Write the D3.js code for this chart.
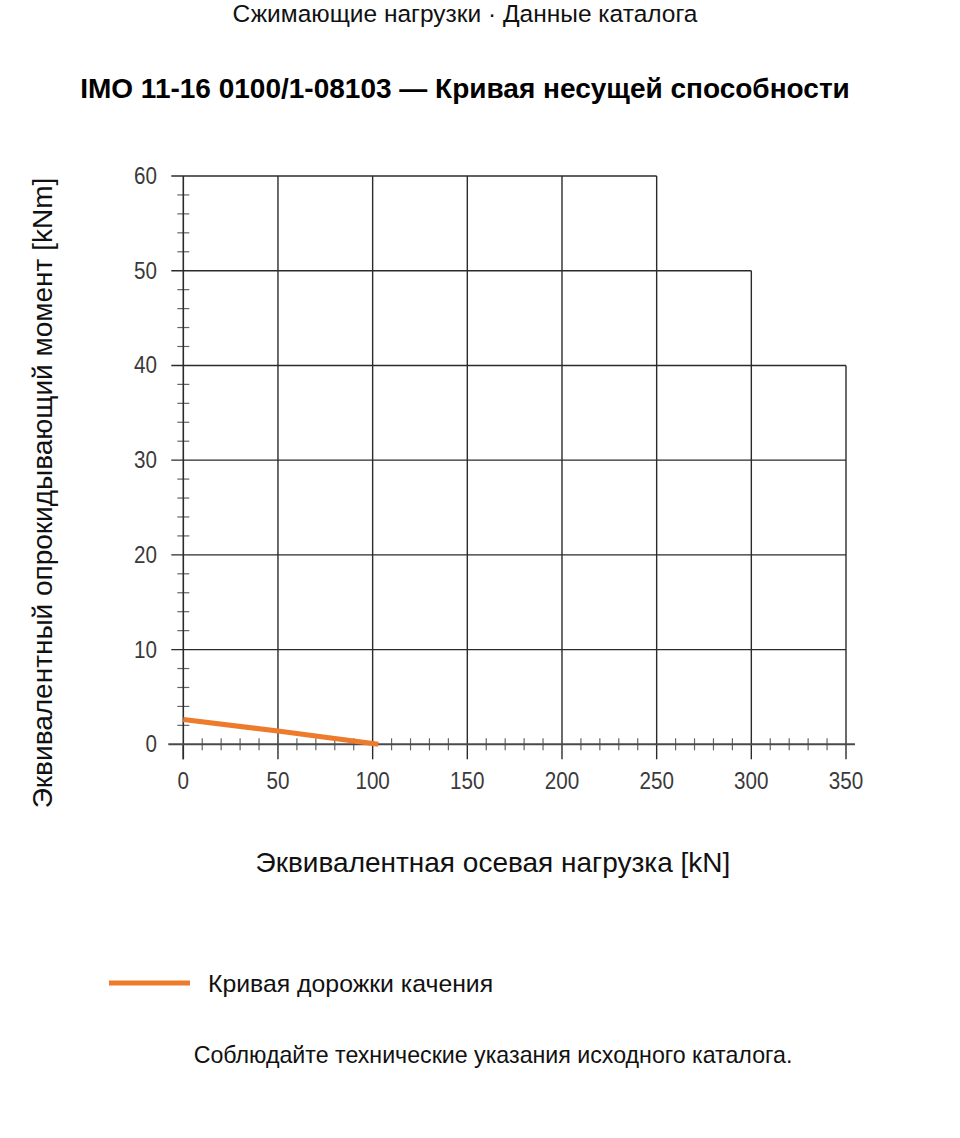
<!DOCTYPE html>
<html>
<head>
<meta charset="utf-8">
<script src="https://cdn.jsdelivr.net/npm/d3@7"></script>
<style>
  html, body { margin: 0; padding: 0; background: #fff; }
  svg { display: block; font-family: "Liberation Sans", Arial, sans-serif; }
  .tick-label { font-family: "Liberation Sans", sans-serif; fill: #3a3a3a; }
</style>
</head>
<body>
<svg></svg>
<script>
// grid columns and the height each one reaches
const gridX = [0, 50, 100, 150, 200, 250, 300, 350]
const gridTop = [60, 60, 60, 60, 60, 60, 50, 40]
const gridY = [10, 20, 30, 40, 50, 60]
const xTicks = [0, 50, 100, 150, 200, 250, 300, 350]
const yTicks = [0, 10, 20, 30, 40, 50, 60]

// raceway curve
const curveX = [0, 50, 103]
const curveY = [2.62, 1.4, 0]

const width = 960
const height = 1138
const left = 183.3
const bottom = 744.3
const plotW = 662.7
const plotH = 568.3

const svg = d3.select('svg')
              .attr('width', width)
              .attr('height', height)

const xScale = d3.scaleLinear().domain([0, 350]).range([left, left + plotW])
const yScale = d3.scaleLinear().domain([0, 60]).range([bottom, bottom - plotH])

const gridColor = '#2b2b2b'
const axisColor = '#4a4a4a'

// vertical grid lines
svg.append('g')
   .selectAll('line')
   .data(gridX.slice(1))
   .join('line')
   .attr('x1', d => xScale(d))
   .attr('x2', d => xScale(d))
   .attr('y1', d => yScale(0))
   .attr('y2', (d, i) => yScale(gridTop[i + 1]))
   .attr('stroke', gridColor)
   .attr('stroke-width', 1.4)

// horizontal grid lines, stop at the last column that reaches them
const rowEnd = y => {
  let end = 0
  gridX.forEach((x, i) => { if (gridTop[i] >= y) end = x })
  return end
}
svg.append('g')
   .selectAll('line')
   .data(gridY)
   .join('line')
   .attr('x1', xScale(0) - 12)
   .attr('x2', d => xScale(rowEnd(d)))
   .attr('y1', d => yScale(d))
   .attr('y2', d => yScale(d))
   .attr('stroke', gridColor)
   .attr('stroke-width', 1.4)

// minor ticks
const xMinor = d3.range(10, 351, 10).filter(d => d % 50 !== 0)
svg.append('g')
   .selectAll('line')
   .data(xMinor)
   .join('line')
   .attr('x1', d => xScale(d))
   .attr('x2', d => xScale(d))
   .attr('y1', bottom - 6)
   .attr('y2', bottom + 6)
   .attr('stroke', '#666')
   .attr('stroke-width', 1.2)

const yMinor = d3.range(2, 60, 2).filter(d => d % 10 !== 0)
svg.append('g')
   .selectAll('line')
   .data(yMinor)
   .join('line')
   .attr('x1', left - 6)
   .attr('x2', left + 6)
   .attr('y1', d => yScale(d))
   .attr('y2', d => yScale(d))
   .attr('stroke', '#666')
   .attr('stroke-width', 1.2)

// major x ticks below axis
svg.append('g')
   .selectAll('line')
   .data(xTicks)
   .join('line')
   .attr('x1', d => xScale(d))
   .attr('x2', d => xScale(d))
   .attr('y1', bottom)
   .attr('y2', bottom + 15)
   .attr('stroke', gridColor)
   .attr('stroke-width', 1.4)

// axes
svg.append('line')
   .attr('x1', left)
   .attr('x2', left)
   .attr('y1', yScale(60))
   .attr('y2', bottom + 15)
   .attr('stroke', gridColor)
   .attr('stroke-width', 1.6)

svg.append('line')
   .attr('x1', left - 15)
   .attr('x2', xScale(350) + 9)
   .attr('y1', bottom)
   .attr('y2', bottom)
   .attr('stroke', axisColor)
   .attr('stroke-width', 2)

// tick labels (squeezed to look condensed)
const squeeze = 0.86
svg.append('g')
   .selectAll('text')
   .data(xTicks)
   .join('text')
   .attr('class', 'tick-label')
   .attr('transform', d => `translate(${xScale(d)}, 789) scale(${squeeze}, 1)`)
   .attr('text-anchor', 'middle')
   .style('font-size', '24px')
   .text(d => d)

svg.append('g')
   .selectAll('text')
   .data(yTicks)
   .join('text')
   .attr('class', 'tick-label')
   .attr('transform', d => `translate(157, ${yScale(d) + 8}) scale(${squeeze}, 1)`)
   .attr('text-anchor', 'end')
   .style('font-size', '24px')
   .text(d => d)

// raceway curve
const line = d3.line()
               .x(d => xScale(d[0]))
               .y(d => yScale(d[1]))
svg.append('path')
   .datum(d3.zip(curveX, curveY))
   .attr('d', line)
   .attr('fill', 'none')
   .attr('stroke', '#ee7b2c')
   .attr('stroke-width', 5)

// titles
svg.append('text')
   .text('Сжимающие нагрузки · Данные каталога')
   .attr('x', 465)
   .attr('y', 22)
   .attr('text-anchor', 'middle')
   .style('font-size', '24.5px')
   .attr('fill', '#111')

svg.append('text')
   .text('IMO 11-16 0100/1-08103 — Кривая несущей способности')
   .attr('x', 465)
   .attr('y', 98)
   .attr('text-anchor', 'middle')
   .style('font-size', '28px')
   .style('font-weight', 'bold')
   .attr('fill', '#000')

svg.append('text')
   .text('Эквивалентная осевая нагрузка [kN]')
   .attr('x', 493)
   .attr('y', 872)
   .attr('text-anchor', 'middle')
   .style('font-size', '28px')
   .attr('fill', '#111')

svg.append('text')
   .text('Эквивалентный опрокидывающий момент [kNm]')
   .attr('transform', 'translate(52, 493) rotate(-90)')
   .attr('text-anchor', 'middle')
   .style('font-size', '28px')
   .attr('fill', '#111')

// legend
svg.append('line')
   .attr('x1', 109)
   .attr('x2', 190)
   .attr('y1', 983)
   .attr('y2', 983)
   .attr('stroke', '#ee7b2c')
   .attr('stroke-width', 5)

svg.append('text')
   .text('Кривая дорожки качения')
   .attr('x', 208)
   .attr('y', 992)
   .style('font-size', '24.8px')
   .attr('fill', '#111')

svg.append('text')
   .text('Соблюдайте технические указания исходного каталога.')
   .attr('x', 493)
   .attr('y', 1063)
   .attr('text-anchor', 'middle')
   .style('font-size', '23.2px')
   .attr('fill', '#111')
</script>
</body>
</html>
